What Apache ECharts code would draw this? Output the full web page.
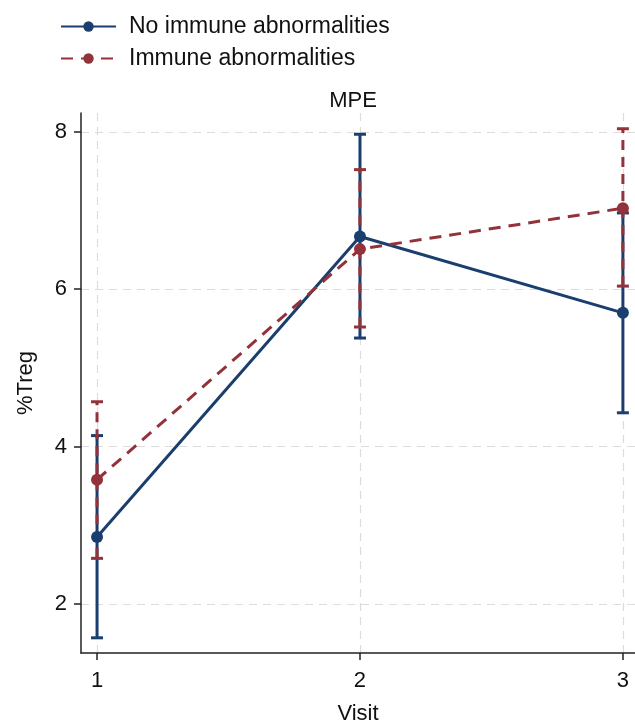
<!DOCTYPE html>
<html>
<head>
<meta charset="utf-8">
<script src="https://cdn.jsdelivr.net/npm/echarts@6/dist/echarts.min.js"></script>
<style>
  html, body { margin: 0; padding: 0; background: #fff; }
  #main { width: 635px; height: 725px; }
</style>
</head>
<body>
<div id="main"></div>
<script>
// data
var visits = [1, 2, 3];
var noAbnMean = [2.85, 6.67, 5.70];
var noAbnLow = [1.57, 5.38, 4.43];
var noAbnHigh = [4.14, 7.97, 6.97];
var abnMean = [3.58, 6.51, 7.03];
var abnLow = [2.58, 5.52, 6.04];
var abnHigh = [4.57, 7.52, 8.04];
var yTicks = [2, 4, 6, 8];

var BLUE = '#1a3f6f';
var RED = '#92323a';
var FONT = 'Liberation Sans, Arial, sans-serif';

function pairs(xs, ys) {
  return xs.map(function (x, i) { return [x, ys[i]]; });
}
function ciData(xs, lo, hi) {
  return xs.map(function (x, i) { return [x, lo[i], hi[i]]; });
}

function errorBars(color, dashed) {
  return function (params, api) {
    var p1 = api.coord([api.value(0), api.value(1)]);
    var p2 = api.coord([api.value(0), api.value(2)]);
    var w = 6;
    var style = { stroke: color, lineWidth: 3, lineDash: dashed ? [10, 7] : null };
    var cap = { stroke: color, lineWidth: 3 };
    return {
      type: 'group',
      children: [
        { type: 'line', shape: { x1: p1[0], y1: p1[1], x2: p2[0], y2: p2[1] }, style: style },
        { type: 'line', shape: { x1: p1[0] - w, y1: p1[1], x2: p1[0] + w, y2: p1[1] }, style: cap },
        { type: 'line', shape: { x1: p2[0] - w, y1: p2[1], x2: p2[0] + w, y2: p2[1] }, style: cap }
      ]
    };
  };
}

var chart = echarts.init(document.getElementById('main'));
chart.setOption({
  animation: false,
  textStyle: { fontFamily: FONT },
  title: {
    text: 'MPE',
    left: 348,
    textAlign: 'center',
    top: 85,
    textStyle: { fontSize: 22, fontWeight: 'normal', color: '#111', fontFamily: FONT }
  },
  legend: {
    orient: 'vertical',
    left: 55,
    top: 10,
    itemWidth: 55,
    itemHeight: 13,
    itemGap: 9,
    textStyle: { fontSize: 23, color: '#111', padding: [0, 0, 0, 8], fontFamily: FONT },
    data: ['No immune abnormalities', 'Immune abnormalities']
  },
  grid: { left: 81, top: 113, right: 0, bottom: 72, outerBoundsMode: 'none' },
  xAxis: {
    type: 'value',
    min: 0.939,
    max: 3.046,
    name: 'Visit',
    nameLocation: 'middle',
    nameGap: 50,
    nameTextStyle: { fontSize: 22, color: '#111', fontFamily: FONT },
    axisLine: { lineStyle: { color: '#222', width: 1.5 } },
    axisTick: { customValues: visits, length: 7, lineStyle: { color: '#222', width: 1.5 } },
    axisLabel: { customValues: visits, fontSize: 22, color: '#111', margin: 17 },
    splitLine: { show: true, lineStyle: { color: '#dcdcdc', type: [8, 6], width: 1.2 } }
  },
  yAxis: {
    type: 'value',
    min: 1.377,
    max: 8.24,
    name: '%Treg',
    nameLocation: 'middle',
    nameRotate: 90,
    nameGap: 44,
    nameTextStyle: { fontSize: 22, color: '#111', fontFamily: FONT },
    axisLine: { show: true, lineStyle: { color: '#222', width: 1.5 } },
    axisTick: { show: true, customValues: yTicks, length: 7, lineStyle: { color: '#222', width: 1.5 } },
    axisLabel: { customValues: yTicks, fontSize: 22, color: '#111', margin: 14 },
    splitLine: { show: true, lineStyle: { color: '#dcdcdc', type: [8, 6], width: 1.2 } }
  },
  series: [
    {
      name: 'No immune abnormalities',
      type: 'line',
      data: pairs(visits, noAbnMean),
      symbol: 'circle',
      symbolSize: 12,
      itemStyle: { color: BLUE },
      lineStyle: { color: BLUE, width: 3 },
      z: 4
    },
    {
      name: 'Immune abnormalities',
      type: 'line',
      data: pairs(visits, abnMean),
      symbol: 'circle',
      symbolSize: 12,
      itemStyle: { color: RED },
      lineStyle: { color: RED, width: 3, type: [12, 8] },
      z: 5
    },
    {
      name: 'No immune abnormalities CI',
      type: 'custom',
      renderItem: errorBars(BLUE, false),
      encode: { x: 0, y: [1, 2] },
      data: ciData(visits, noAbnLow, noAbnHigh),
      z: 2
    },
    {
      name: 'Immune abnormalities CI',
      type: 'custom',
      renderItem: errorBars(RED, true),
      encode: { x: 0, y: [1, 2] },
      data: ciData(visits, abnLow, abnHigh),
      z: 3
    }
  ]
});
</script>
</body>
</html>
